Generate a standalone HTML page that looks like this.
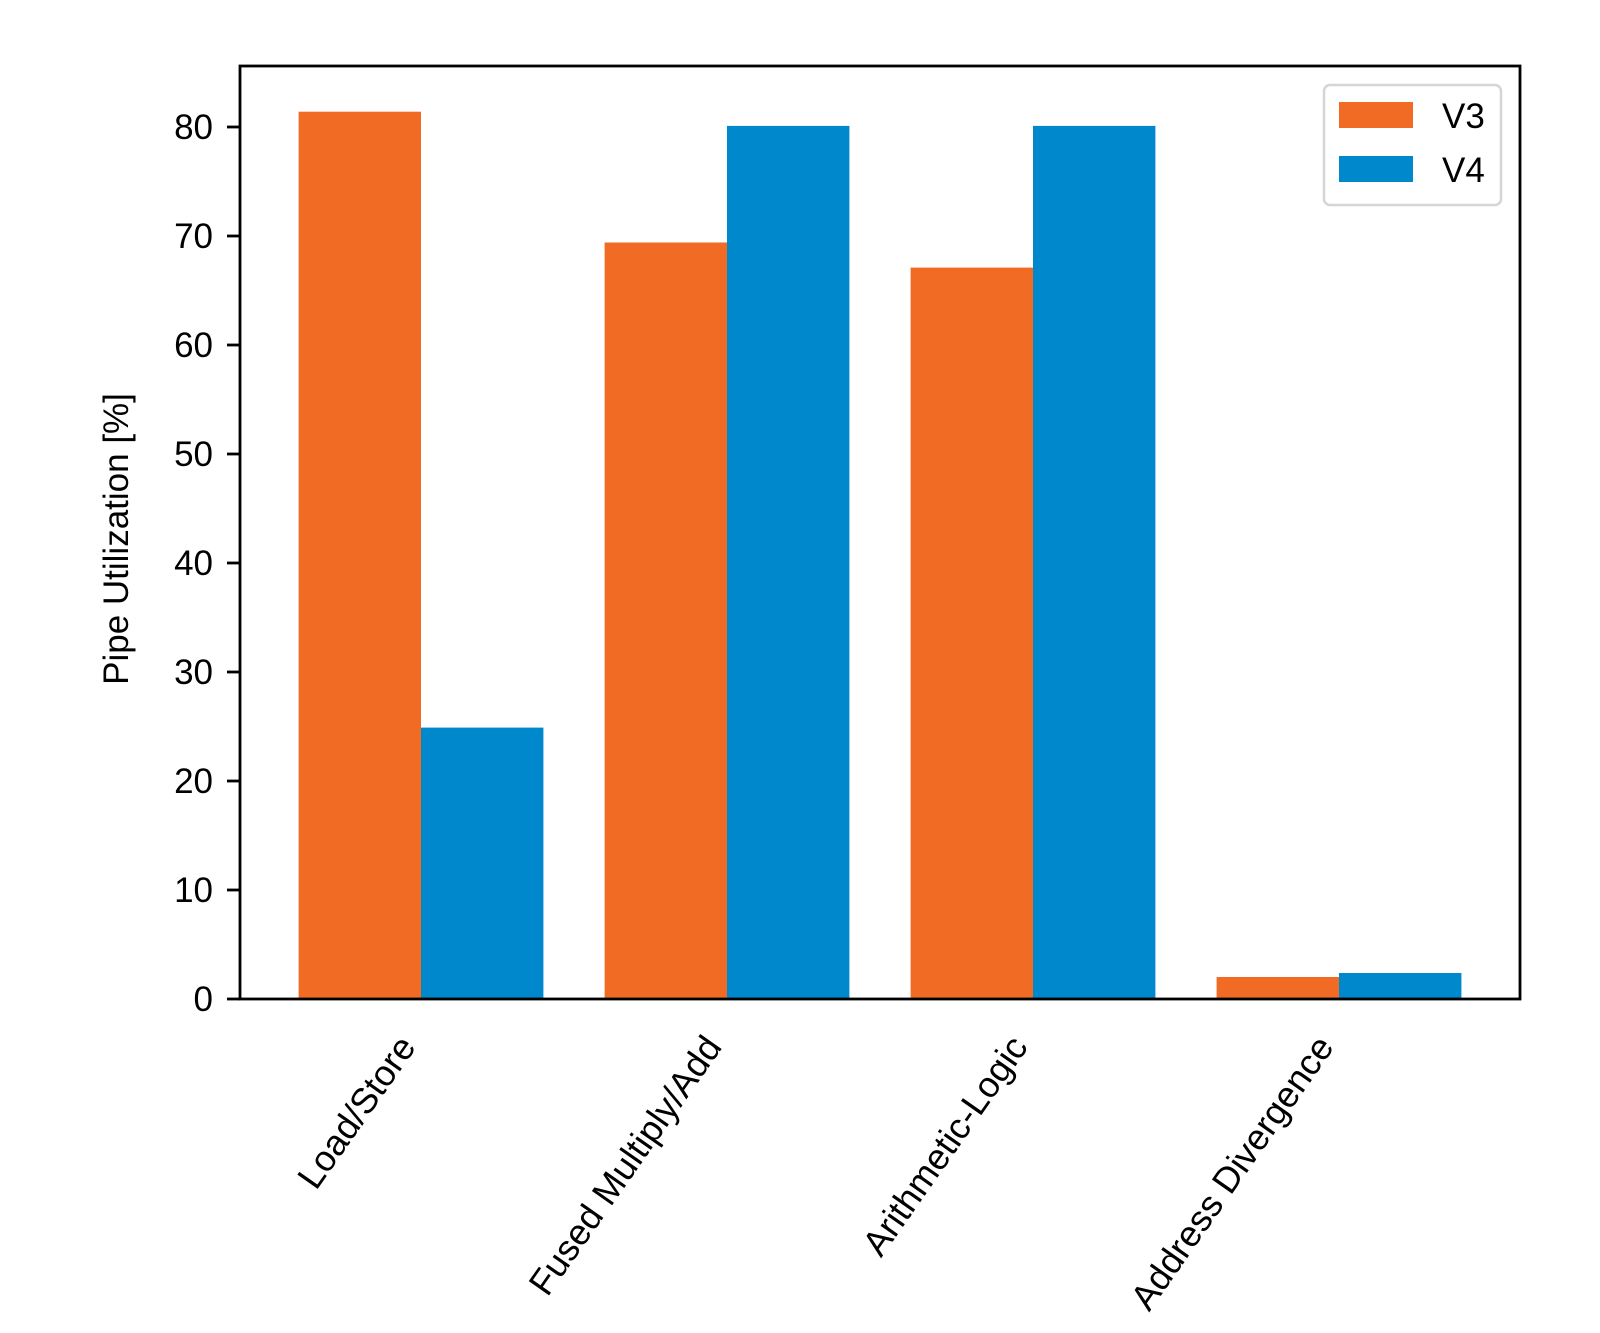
<!DOCTYPE html>
<html><head><meta charset="utf-8"><style>body{margin:0;background:#fff}svg{display:block}text{font-family:"Liberation Sans",sans-serif;fill:#000}</style></head>
<body>
<svg width="1600" height="1333" viewBox="0 0 1600 1333" xmlns="http://www.w3.org/2000/svg">
<rect width="1600" height="1333" fill="#fff"/>
<g fill="#f26b25">
<rect x="298.6" y="111.7" width="122.4" height="887.3"/>
<rect x="604.6" y="242.5" width="122.4" height="756.5"/>
<rect x="910.6" y="267.6" width="122.4" height="731.4"/>
<rect x="1216.6" y="977" width="122.4" height="22"/>
</g>
<g fill="#0088cc">
<rect x="421" y="727.6" width="122.4" height="271.4"/>
<rect x="727" y="125.9" width="122.4" height="873.1"/>
<rect x="1033" y="125.9" width="122.4" height="873.1"/>
<rect x="1339" y="973" width="122.4" height="26"/>
</g>
<rect x="240" y="66" width="1280" height="933" fill="none" stroke="#000" stroke-width="2.8"/>
<g stroke="#000" stroke-width="2.8">
<line x1="227" y1="999" x2="240" y2="999"/><line x1="227" y1="890" x2="240" y2="890"/><line x1="227" y1="781" x2="240" y2="781"/><line x1="227" y1="672" x2="240" y2="672"/><line x1="227" y1="563" x2="240" y2="563"/><line x1="227" y1="454" x2="240" y2="454"/><line x1="227" y1="345" x2="240" y2="345"/><line x1="227" y1="236" x2="240" y2="236"/><line x1="227" y1="127" x2="240" y2="127"/>
</g>
<g font-size="35" text-anchor="end">
<text x="213" y="1011">0</text><text x="213" y="902">10</text><text x="213" y="793">20</text><text x="213" y="684">30</text><text x="213" y="575">40</text><text x="213" y="466">50</text><text x="213" y="357">60</text><text x="213" y="248">70</text><text x="213" y="139">80</text>
</g>
<text font-size="35" text-anchor="middle" transform="translate(128,539) rotate(-90)">Pipe Utilization [%]</text>
<g font-size="36" text-anchor="end">
<text transform="translate(417,1047) rotate(-55)">Load/Store</text>
<text transform="translate(723,1047) rotate(-55)">Fused Multiply/Add</text>
<text transform="translate(1029,1047) rotate(-55)">Arithmetic-Logic</text>
<text transform="translate(1335,1047) rotate(-55)">Address Divergence</text>
</g>
<rect x="1324" y="85" width="177" height="120" rx="6" fill="#fff" stroke="#d5d5d5" stroke-width="2.5"/>
<rect x="1339" y="102" width="74" height="26" fill="#f26b25"/>
<rect x="1339" y="156" width="74" height="26" fill="#0088cc"/>
<text x="1442" y="128" font-size="35">V3</text>
<text x="1442" y="182" font-size="35">V4</text>
</svg>
</body></html>
